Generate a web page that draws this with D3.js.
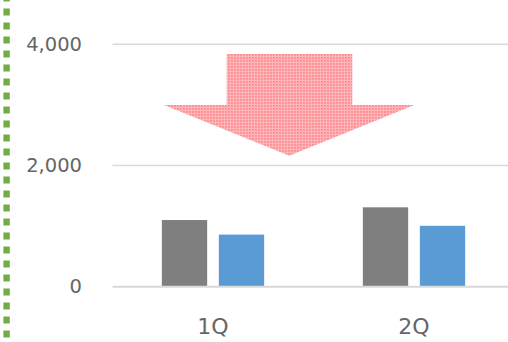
<!DOCTYPE html>
<html>
<head>
<meta charset="utf-8">
<script src="https://cdn.jsdelivr.net/npm/d3@7"></script>
<style>
  html, body { margin: 0; padding: 0; background: #ffffff; }
  svg { display: block; }
</style>
</head>
<body>
<svg id="chart" width="508" height="342"></svg>
<script>
// Quarterly values, two series
const categories = ["1Q", "2Q"];
const seriesNames = ["前年", "当年"];
const seriesA = [1100, 1310];
const seriesB = [860, 1005];
const yTicks = [0, 2000, 4000];
const seriesColors = ["#7f7f7f", "#5b9bd5"];

// Decline arrow, expressed in value units (top, shoulder, tip)
const arrowLevels = [3840, 3000, 2160];

const W = 508, H = 342;
const svg = d3.select("#chart");

const plot = { left: 112.5, right: 514.5, top: 44.3, bottom: 286.7 };

const y = d3.scaleLinear().domain([0, 4000]).range([plot.bottom, plot.top]);
const x0 = d3.scaleBand().domain(categories).range([plot.left, plot.right]).padding(0);
const groupW = x0.bandwidth() * 0.509;
const x1 = d3.scaleBand().domain(seriesNames).range([0, groupW]).paddingInner(0.205).paddingOuter(0);

const textColor = "#666666";
const font = "'DejaVu Sans', Verdana, sans-serif";

// Green dotted border on the left
svg.append("line")
  .attr("x1", 6.6).attr("x2", 6.6)
  .attr("y1", -5.5).attr("y2", H)
  .attr("stroke", "#70ad47")
  .attr("stroke-width", 6.4)
  .attr("stroke-dasharray", "7 7");

// Gridlines and y labels
const yAxis = d3.axisLeft(y).tickValues(yTicks).tickSize(0).tickFormat(d3.format(","));
const gy = svg.append("g").attr("transform", `translate(${plot.left},0)`).call(yAxis);
gy.select(".domain").remove();
gy.selectAll("text")
  .attr("x", -30.5)
  .attr("dy", "0.3em")
  .attr("fill", textColor)
  .style("font-family", font)
  .style("font-size", "19.5px");

svg.append("g").selectAll("line.grid")
  .data(yTicks.filter(d => d !== 0))
  .join("line")
  .attr("x1", plot.left).attr("x2", W)
  .attr("y1", d => y(d)).attr("y2", d => y(d))
  .attr("stroke", "#d9d9d9")
  .attr("stroke-width", 1.6);

// Pattern fill for the arrow
const defs = svg.append("defs");
const pat = defs.append("pattern")
  .attr("id", "dots")
  .attr("width", 3).attr("height", 3)
  .attr("patternUnits", "userSpaceOnUse");
pat.append("rect").attr("width", 3).attr("height", 3).attr("fill", "#ffb6b9");
pat.append("rect").attr("width", 2).attr("height", 2).attr("fill", "#ff959b");
pat.append("rect").attr("width", 1).attr("height", 1).attr("fill", "#fb8a91");

// Bars
const groups = svg.append("g").selectAll("g")
  .data(categories.map((c, i) => ({ c, vals: [seriesA[i], seriesB[i]] })))
  .join("g")
  .attr("transform", d => `translate(${x0(d.c) + (x0.bandwidth() - groupW) / 2},0)`);

groups.selectAll("rect")
  .data(d => d.vals.map((v, j) => ({ v, s: seriesNames[j], j })))
  .join("rect")
  .attr("x", d => x1(d.s))
  .attr("width", x1.bandwidth())
  .attr("y", d => y(d.v))
  .attr("height", d => y(0) - y(d.v))
  .attr("fill", d => seriesColors[d.j]);

// Baseline
svg.append("line")
  .attr("x1", plot.left).attr("x2", W)
  .attr("y1", y(0)).attr("y2", y(0))
  .attr("stroke", "#d9d9d9")
  .attr("stroke-width", 2);

// Category labels
svg.append("g").selectAll("text")
  .data(categories)
  .join("text")
  .attr("x", d => x0(d) + x0.bandwidth() / 2)
  .attr("y", 333.5)
  .attr("text-anchor", "middle")
  .attr("fill", textColor)
  .style("font-family", font)
  .style("font-size", "22px")
  .text(d => d);

// Downward arrow
const shaftL = plot.left + 114.2, shaftR = plot.left + 239.8;
const headL = plot.left + 51.5, headR = plot.left + 301.8, tipX = plot.left + 176.8;
const [aTop, aShoulder, aTip] = arrowLevels.map(y);
svg.append("path")
  .attr("d", `M${shaftL},${aTop} L${shaftR},${aTop} L${shaftR},${aShoulder} L${headR},${aShoulder} L${tipX},${aTip} L${headL},${aShoulder} L${shaftL},${aShoulder} Z`)
  .attr("fill", "url(#dots)");
</script>
</body>
</html>
